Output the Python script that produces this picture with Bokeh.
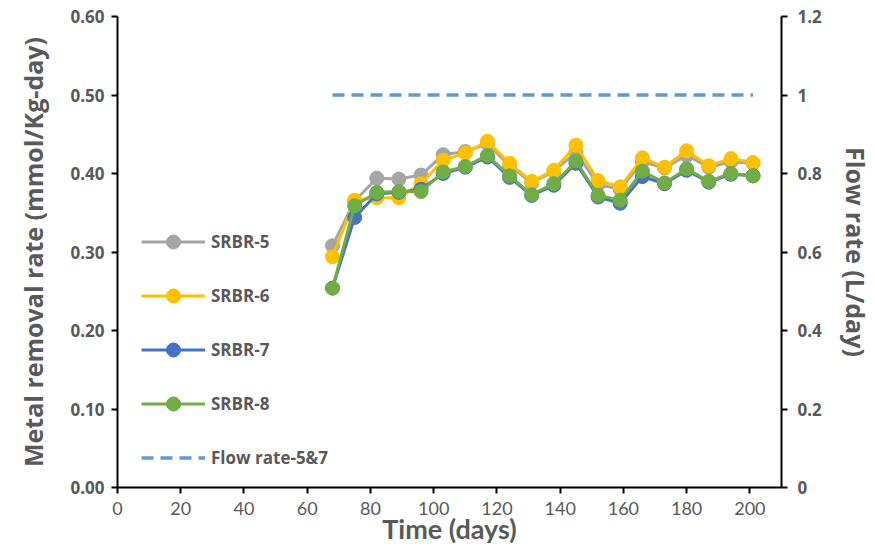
from bokeh.plotting import figure
from bokeh.models import (Range1d, LinearAxis, FixedTicker, NumeralTickFormatter,
                          Legend, LegendItem, ColumnDataSource)
from bokeh.embed import file_html
from bokeh.resources import INLINE

# Sampling days (weekly)
days = [68, 75, 82, 89, 96, 103, 110, 117, 124, 131, 138, 145, 152, 159, 166, 173, 180, 187, 194, 201]

# Metal removal rate (mmol/Kg-day) per reactor
srbr5 = [0.308, 0.365, 0.394, 0.393, 0.398, 0.424, 0.428, 0.438, 0.410, 0.388, 0.403, 0.427, 0.386, 0.380, 0.415, 0.407, 0.423, 0.408, 0.415, 0.413]
srbr6 = [0.294, 0.366, 0.369, 0.369, 0.387, 0.417, 0.426, 0.441, 0.413, 0.390, 0.404, 0.436, 0.391, 0.383, 0.420, 0.408, 0.429, 0.410, 0.419, 0.414]
srbr7 = [0.254, 0.344, 0.374, 0.376, 0.380, 0.400, 0.408, 0.421, 0.395, 0.372, 0.385, 0.413, 0.370, 0.362, 0.396, 0.387, 0.404, 0.389, 0.399, 0.397]
srbr8 = [0.254, 0.359, 0.376, 0.377, 0.377, 0.402, 0.409, 0.423, 0.397, 0.373, 0.387, 0.416, 0.372, 0.366, 0.403, 0.388, 0.406, 0.390, 0.400, 0.397]

# Flow rate (L/day) for reactors 5 & 7
flow_days = [68, 201]
flow_rate = [1.0, 1.0]

x_ticks = [0, 20, 40, 60, 80, 100, 120, 140, 160, 180, 200]
left_ticks = [0.0, 0.1, 0.2, 0.3, 0.4, 0.5, 0.6]
right_ticks = [0.0, 0.2, 0.4, 0.6, 0.8, 1.0, 1.2]
right_labels = ["0", "0.2", "0.4", "0.6", "0.8", "1", "1.2"]

TXT = "#595959"

p = figure(width=875, height=550, output_backend="svg", toolbar_location=None,
           x_range=Range1d(0, 210), y_range=Range1d(0, 0.6),
           min_border_left=117, min_border_right=92, min_border_top=16, min_border_bottom=63)
p.outline_line_color = None
p.xgrid.visible = False
p.ygrid.visible = False
p.background_fill_color = "white"
p.border_fill_color = "white"

p.extra_y_ranges = {"flow": Range1d(0, 1.2)}

def style_axis(ax, label_font, label_size, label_style="bold"):
    ax.axis_line_color = "black"
    ax.axis_line_width = 2
    ax.major_tick_line_color = "black"
    ax.major_tick_line_width = 2
    ax.major_tick_out = 6
    ax.major_tick_in = 0
    ax.minor_tick_out = 0
    ax.minor_tick_in = 0
    ax.major_label_text_font = label_font
    ax.major_label_text_font_size = label_size
    ax.major_label_text_font_style = label_style
    ax.major_label_text_color = TXT
    ax.axis_label_text_color = TXT

# x axis
xa = p.xaxis[0]
xa.ticker = FixedTicker(ticks=x_ticks)
style_axis(xa, "Lato", "18px", "normal")
xa.major_label_standoff = 8
xa.axis_label = "Time (days)"
xa.axis_label_text_font = "Lato"
xa.axis_label_text_font_size = "27px"
xa.axis_label_text_font_style = "bold"
xa.axis_label_standoff = -6

# left y axis
ya = p.yaxis[0]
ya.ticker = FixedTicker(ticks=left_ticks)
ya.formatter = NumeralTickFormatter(format="0.00")
style_axis(ya, "Open Sans", "17px")
ya.major_label_standoff = 7
ya.axis_label = "Metal removal rate (mmol/Kg-day)"
ya.axis_label_text_font = "Open Sans"
ya.axis_label_text_font_size = "25px"
ya.axis_label_text_font_style = "bold"
ya.axis_label_standoff = 17

# right y axis for flow rate
ry = LinearAxis(y_range_name="flow", ticker=FixedTicker(ticks=right_ticks))
ry.major_label_overrides = {t: l for t, l in zip(right_ticks, right_labels)}
style_axis(ry, "Open Sans", "17px")
ry.major_label_standoff = 10
ry.axis_label = "Flow rate (L/day)"
ry.axis_label_text_font = "Open Sans"
ry.axis_label_text_font_size = "25px"
ry.axis_label_text_font_style = "bold"
ry.axis_label_standoff = 14
p.add_layout(ry, "right")

series = [("SRBR-5", srbr5, "#A5A5A5"),
          ("SRBR-6", srbr6, "#FFC000"),
          ("SRBR-7", srbr7, "#4472C4"),
          ("SRBR-8", srbr8, "#70AD47")]

items = []
for name, vals, col in series:
    src = ColumnDataSource(dict(x=days, y=vals))
    ln = p.line("x", "y", source=src, line_color=col, line_width=3)
    mk = p.scatter("x", "y", source=src, size=14, fill_color=col, line_color=col)
    items.append(LegendItem(label=name, renderers=[ln, mk]))

fsrc = ColumnDataSource(dict(x=flow_days, y=flow_rate))
fl = p.line("x", "y", source=fsrc, y_range_name="flow", line_color="#5B9BD5",
            line_width=3.5, line_dash="12 7", line_cap="butt")
items.append(LegendItem(label="Flow rate-5&7", renderers=[fl]))

leg = Legend(items=items, location=(24, 12), orientation="vertical")
leg.border_line_color = None
leg.background_fill_alpha = 0
leg.padding = 0
leg.margin = 0
leg.spacing = 19
leg.glyph_height = 35
leg.glyph_width = 64
leg.label_height = 20
leg.label_standoff = 6
leg.label_text_font = "Open Sans"
leg.label_text_font_size = "17px"
leg.label_text_font_style = "bold"
leg.label_text_color = TXT
p.add_layout(leg)

open("out.html", "w").write(file_html(p, INLINE))
